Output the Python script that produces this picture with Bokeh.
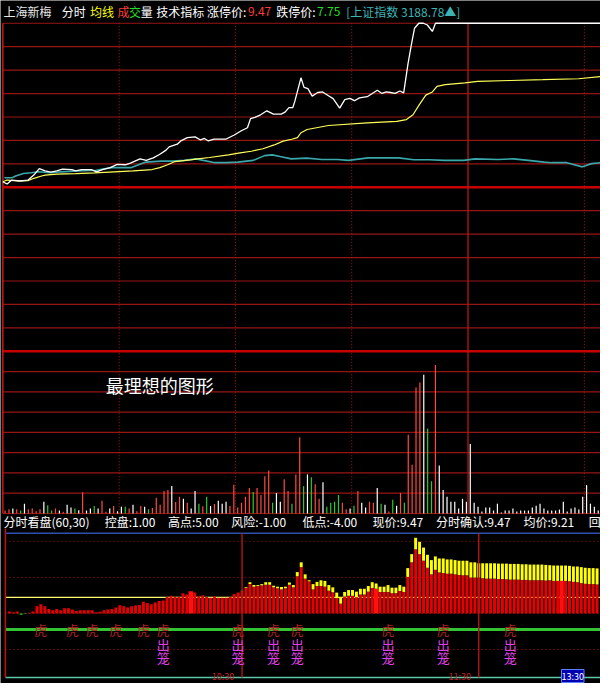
import numpy as np
from bokeh.plotting import figure
from bokeh.models import Range1d, Label
from bokeh.core.properties import value
from bokeh.embed import file_html
from bokeh.resources import INLINE

# ---------------- data ----------------
LIMIT_UP = 9.47
LIMIT_DOWN = 7.75
PREV_CLOSE = 8.61

# 分时 price line: minutes after 09:30, price
price_t = [0.0, 1.1, 2.3, 4.5, 6.5, 8.0, 9.4, 10.9, 12.4, 13.9, 15.4, 17.8, 18.8, 20.3, 22.8, 24.2, 25.7, 27.7, 29.5, 31.6,
           32.9, 35.4, 37.0, 38.8, 40.4, 42.1, 42.9, 45.0, 45.9, 47.6, 49.6, 51.0, 52.0, 53.0, 54.5, 57.5, 59.7, 61.4, 63.1, 63.9,
           65.0, 66.5, 68.1, 69.8, 71.8, 72.8, 73.8, 74.8, 75.3, 76.9, 77.7, 78.7, 79.8, 81.2, 82.5, 84.0, 85.2, 86.9, 88.2, 89.5,
           90.7, 92.0, 94.0, 95.3, 96.6, 97.8, 98.9, 100.0, 101.2, 102.4, 103.4, 104.5, 105.4, 106.2, 107.3, 108.5, 109.5, 110.8, 111.6, 154.2]
price_v = [8.639, 8.627, 8.648, 8.643, 8.648, 8.674, 8.708, 8.696, 8.689, 8.696, 8.705, 8.703, 8.696, 8.703, 8.703, 8.691, 8.703, 8.713, 8.730, 8.728,
           8.737, 8.759, 8.751, 8.764, 8.782, 8.805, 8.822, 8.836, 8.853, 8.870, 8.874, 8.858, 8.866, 8.853, 8.862, 8.862, 8.884, 8.905, 8.922, 8.970,
           8.977, 8.990, 9.011, 8.994, 8.994, 9.004, 9.028, 9.028, 9.059, 9.184, 9.134, 9.127, 9.088, 9.107, 9.110, 9.090, 9.075, 9.025, 9.070, 9.076,
           9.064, 9.079, 9.085, 9.102, 9.119, 9.102, 9.110, 9.107, 9.102, 9.115, 9.105, 9.256, 9.359, 9.444, 9.470, 9.470, 9.461, 9.427, 9.470, 9.470]

# 均线 (average price)
avg_t = [0.0, 1.1, 4.0, 6.5, 8.0, 10.0, 10.9, 13.9, 18.8, 23.7, 28.7, 33.6, 38.5, 40.5, 42.5, 44.4, 48.4, 50.3, 53.3, 58.2,
         61.2, 64.1, 67.1, 70.0, 72.3, 74.5, 76.0, 76.9, 78.5, 84.0, 94.0, 101.6, 104.1, 105.8, 107.4, 109.1, 110.8, 112.0, 114.1, 119.2,
         122.5, 130.9, 139.3, 148.5, 154.2]
avg_v = [8.639, 8.648, 8.643, 8.645, 8.657, 8.669, 8.674, 8.679, 8.682, 8.686, 8.691, 8.696, 8.703, 8.713, 8.728, 8.745, 8.754, 8.759, 8.766, 8.780,
         8.790, 8.799, 8.812, 8.832, 8.852, 8.862, 8.870, 8.896, 8.913, 8.934, 8.948, 8.956, 8.965, 8.990, 9.042, 9.093, 9.110, 9.139, 9.148, 9.157,
         9.165, 9.170, 9.174, 9.179, 9.191]

# 上证指数 overlay, on the price scale
idx_t = [0.4, 2.4, 3.3, 5.3, 7.3, 9.3, 12.2, 15.2, 19.1, 24.1, 28.0, 33.0, 36.9, 40.9, 43.8, 46.8, 49.8, 51.7, 54.7, 57.6,
         60.6, 64.6, 67.5, 69.5, 71.5, 74.4, 78.4, 82.3, 86.3, 89.2, 94.2, 98.1, 102.1, 106.0, 110.0, 113.9, 118.9, 121.8, 127.7, 131.7,
         135.6, 139.6, 141.6, 145.5, 149.5, 151.9, 154.2]
idx_v = [8.660, 8.660, 8.669, 8.682, 8.686, 8.691, 8.686, 8.691, 8.696, 8.699, 8.713, 8.713, 8.742, 8.747, 8.747, 8.751, 8.759, 8.751, 8.739, 8.739,
         8.742, 8.751, 8.776, 8.780, 8.771, 8.759, 8.763, 8.756, 8.756, 8.751, 8.764, 8.764, 8.764, 8.754, 8.754, 8.751, 8.751, 8.759, 8.756, 8.759,
         8.751, 8.742, 8.739, 8.739, 8.717, 8.734, 8.739]

# per-minute volume (手) and tick direction (r = up, g = down, w = unchanged)
vol = [150, 215, 250, 215, 150, 500, 215, 250, 115, 215,
       600, 415, 150, 250, 150, 85, 450, 300, 250, 165,
       1085, 150, 250, 385, 250, 650, 85, 250, 385, 115,
       350, 350, 250, 450, 115, 385, 350, 215, 285, 800,
       450, 1150, 1200, 1400, 585, 850, 750, 550, 250, 1150,
       500, 365, 850, 385, 485, 650, 500, 600, 385, 1465,
       300, 550, 850, 1300, 1100, 1300, 950, 1900, 2200, 550,
       1050, 600, 1750, 1150, 500, 2000, 3900, 1400, 2000, 1850,
       1500, 750, 1600, 350, 550, 600, 950, 550, 215, 250,
       400, 1150, 550, 300, 600, 550, 1300, 500, 450, 100,
       700, 400, 1050, 550, 4035, 2500, 6450, 6700, 7100, 4350,
       1650, 7600, 2450, 1200, 850, 600, 600, 250, 750, 600,
       3550, 550, 350, 100, 300, 300, 150, 500, 50, 150,
       150, 250, 100, 150, 150, 150, 300, 400, 500, 250,
       150, 150, 150, 200, 600, 100, 250, 300, 200, 850,
       1450, 500, 350, 150]
vol_dir = list("rrwrgwrrrr" "wggrwrwwgw" "rwwgwrrwrw" "wgrwrrwgrr"
               "rrrwrrwrww" "grgwrwwwrr" "rrrrgrrrrg" "wwrrgrrgwg"
               "rrwggggrrw" "grwwrrwgwr" "gwrgrrrrwg" "grwwwwwwww"
               "wwwwwwwwww" "wwwwwwwwww" "wwwwwwwwww" "wwww")

# 分时看盘 indicator (lower panel): minute index, red part, red+yellow total
ind_i = list(range(1, 151))
ind_red = [0.12, 0.08, 0.12, -0.08, -0.04, 0.04, 0.12, 0.45, 0.57, 0.45,
           0.28, 0.20, 0.28, 0.20, 0.33, 0.33, 0.24, 0.16, 0.20, 0.20,
           0.20, 0.20, 0.08, 0.10, 0.20, 0.24, 0.28, 0.37, 0.51, 0.45,
           0.37, 0.45, 0.49, 0.53, 0.73, 0.65, 0.57, 0.69, 0.77, 0.81,
           1.02, 1.10, 1.02, 1.02, 1.26, 1.18, 1.38, 1.30, 1.06, 1.14,
           1.02, 0.98, 1.06, 0.98, 0.98, 0.98, 1.02, 1.22, 1.30,
           1.38, 1.59, 1.83, 1.67, 1.71, 1.75, 1.79, 1.79, 1.63, 1.57, 1.50, 1.57, 1.79, 1.63, 2.32, 2.89,
           2.17, 2.00, 1.50, 1.71, 1.71, 1.67, 1.42, 1.32, 0.96, 0.61,
           1.06, 1.10, 1.10, 1.02, 1.18, 1.18, 1.36, 1.59, 1.54, 1.34, 1.34, 1.34, 1.26, 1.26, 1.40, 1.34,
           2.28, 3.19, 4.00, 3.70, 3.29, 2.85, 2.44, 2.72, 2.56, 2.52, 2.48, 2.48, 2.44, 2.40, 2.38, 2.38, 2.24, 2.24, 2.24,
           2.20, 2.17, 2.17, 2.17, 2.15, 2.15, 2.13, 2.11, 2.11, 2.11, 2.09, 2.09, 2.07, 2.07, 2.07, 2.07, 2.05, 2.07, 2.03, 2.03,
           2.03, 2.03, 2.01, 1.97, 1.95, 1.89, 1.85, 1.83, 1.83, 1.81]
ind_tot = [0.12, 0.08, 0.12, -0.08, -0.04, 0.04, 0.12, 0.45, 0.57, 0.45,
           0.28, 0.20, 0.28, 0.20, 0.33, 0.33, 0.24, 0.16, 0.20, 0.20,
           0.20, 0.20, 0.08, 0.10, 0.20, 0.24, 0.28, 0.37, 0.51, 0.45,
           0.37, 0.45, 0.49, 0.53, 0.73, 0.65, 0.57, 0.69, 0.77, 0.81,
           1.02, 1.10, 1.02, 1.02, 1.26, 1.18, 1.38, 1.30, 1.06, 1.14,
           1.02, 0.98, 1.06, 0.98, 0.98, 0.98, 1.02, 1.22, 1.30,
           1.42, 1.63, 1.95, 1.77, 1.77, 1.83, 1.95, 1.95, 1.73, 1.67, 1.65, 1.67, 1.93, 1.77, 2.58, 3.19,
           2.44, 2.07, 1.83, 1.97, 2.07, 2.03, 1.77, 1.63, 1.30, 1.02,
           1.34, 1.46, 1.46, 1.36, 1.54, 1.54, 1.71, 1.95, 1.87, 1.67, 1.67, 1.77, 1.61, 1.61, 1.77, 1.67,
           2.83, 3.70, 4.72, 4.47, 4.11, 3.66, 3.33, 3.56, 3.43, 3.43, 3.37, 3.37, 3.33, 3.29, 3.29, 3.29, 3.19, 3.19, 3.13,
           3.13, 3.13, 3.13, 3.13, 3.11, 3.11, 3.11, 3.09, 3.09, 3.09, 3.07, 3.07, 3.05, 3.05, 3.05, 3.05, 3.03, 3.01, 2.99, 2.99,
           2.99, 2.99, 2.97, 2.93, 2.93, 2.89, 2.85, 2.83, 2.83, 2.81]
ind_bright = [47, 94, 141]
# indicator levels
IND_HIGH, IND_CTRL, IND_RISK, IND_LOW = 5.0, 1.0, -1.0, -4.0
IND_DOTS = [4.5, 2.25, 0.0, -2.25]
# signals
tiger_t = [9, 17, 22, 28, 35, 40, 59, 68, 74, 97, 111, 128]
cage_t = [40, 59, 68, 74, 97, 111, 128]

header = [("上海新梅", "#e8e8e8"), ("分时", "#ffffff"), ("均线", "#ffff00"), ("成", "#ff3c3c"), ("交", "#22dd22"),
          ("量", "#ffffff"), ("技术指标", "#ffffff"), ("涨停价:", "#ffffff"), ("9.47", "#ff3c3c"),
          ("跌停价:", "#ffffff"), ("7.75", "#22dd22"), ("[上证指数 3188.78▲]", "#3cb4b4")]
indicator_text = ["分时看盘(60,30)", "控盘:1.00", "高点:5.00", "风险:-1.00", "低点:-4.00",
                  "现价:9.47", "分时确认:9.47", "均价:9.21", "回"]
time_labels = ["10:30", "11:30"]
cursor_label = "13:30"

# ---------------- layout (reference pixel geometry) ----------------
REF_W, REF_H = 616, 699
W, H = 600, 683
UP_X0, UP_PX_MIN = 2.4, 3.98          # 09:30 position, px per minute (upper panels)
LO_X0, LO_PX_MIN = 5.0, 4.05          # lower panel
PRICE_TOP_PX, PRICE_BOT_PX = 23.3, 359.0
VOL_TOP_PX, VOL_BOT_PX = 359.0, 525.0
VOL_MAX = 8300.0
IND_ZERO_PX, IND_HIGH_PX = 627.3, 545.3
FONT = "Noto Sans CJK SC"


def x_range_from(x0_px, px_per):
    return Range1d(start=(0 - x0_px) / px_per, end=(REF_W - x0_px) / px_per)


def y_range_from(va, pa, vb, pb):
    slope = (vb - va) / (pb - pa)
    top = va - slope * pa
    bottom = va + slope * (REF_H - pa)
    return Range1d(start=bottom, end=top)


p = figure(width=W, height=H, x_range=Range1d(0, REF_W), y_range=Range1d(REF_H, 0),
           output_backend="svg", toolbar_location=None, min_border=0,
           x_axis_location=None, y_axis_location=None,
           background_fill_color="black", border_fill_color="black", outline_line_color=None)
p.grid.visible = False
p.extra_x_ranges = {"tu": x_range_from(UP_X0, UP_PX_MIN), "tl": x_range_from(LO_X0, LO_PX_MIN)}
p.extra_y_ranges = {
    "price": y_range_from(LIMIT_UP, PRICE_TOP_PX, LIMIT_DOWN, PRICE_BOT_PX),
    "vol": y_range_from(VOL_MAX, VOL_TOP_PX, 0.0, VOL_BOT_PX),
    "ind": y_range_from(IND_HIGH, IND_HIGH_PX, 0.0, IND_ZERO_PX),
}

GRID = "#981414"
THICK = "#c80000"
T_END = (REF_W - UP_X0) / UP_PX_MIN
TL_END = (REF_W - LO_X0) / LO_PX_MIN

# ---- price panel grid ----
step = (LIMIT_UP - PREV_CLOSE) / 7
for k in range(-7, 8):
    lvl = PREV_CLOSE + k * step
    thick = k in (0, -7)
    p.segment(x0=0, x1=T_END, y0=lvl, y1=lvl, x_range_name="tu", y_range_name="price",
              line_color=THICK if thick else GRID, line_width=2.5 if thick else 1.2)
# volume panel grid
for k in range(0, 8):
    lvl = k * VOL_MAX / 8
    p.segment(x0=0, x1=T_END, y0=lvl, y1=lvl, x_range_name="tu", y_range_name="vol",
              line_color=GRID, line_width=1.2)
# vertical time lines of upper panels
for m in [30, 60, 90, 150]:
    p.segment(x0=m, x1=m, y0=PRICE_TOP_PX, y1=VOL_BOT_PX, x_range_name="tu",
              line_color="#b41818", line_width=1, line_dash="1 2")
p.segment(x0=120, x1=120, y0=PRICE_TOP_PX, y1=VOL_BOT_PX, x_range_name="tu", line_color="#b41818", line_width=1.3)
p.segment(x0=0, x1=0, y0=PRICE_TOP_PX, y1=VOL_BOT_PX, x_range_name="tu", line_color="#c81818", line_width=1.5)

# ---- volume bars ----
cmap = {"r": "#ff4a3c", "g": "#2ccc2c", "w": "#ffffff"}
vt = np.arange(len(vol)) + 0.58
p.segment(x0=vt, x1=vt, y0=np.zeros(len(vol)), y1=vol, x_range_name="tu", y_range_name="vol",
          line_color=[cmap[d] for d in vol_dir], line_width=1.2)

# ---- lines ----
p.line(idx_t, idx_v, x_range_name="tu", y_range_name="price", line_color="#3aa8aa", line_width=1.6)
p.line(avg_t, avg_v, x_range_name="tu", y_range_name="price", line_color="#ffff58", line_width=1.2)
p.line(price_t, price_v, x_range_name="tu", y_range_name="price", line_color="#ffffff", line_width=1.3)

# ---- lower indicator panel ----
p.segment(x0=0, x1=TL_END, y0=IND_HIGH, y1=IND_HIGH, x_range_name="tl", y_range_name="ind",
          line_color="#2f50b0", line_width=1.6)
for lvl in IND_DOTS:
    p.segment(x0=0, x1=TL_END, y0=lvl, y1=lvl, x_range_name="tl", y_range_name="ind",
              line_color="#b01818", line_width=1, line_dash="1 3")
p.segment(x0=0, x1=TL_END, y0=IND_CTRL, y1=IND_CTRL, x_range_name="tl", y_range_name="ind",
          line_color="#ffff70", line_width=1.2)
p.segment(x0=0, x1=TL_END, y0=IND_LOW, y1=IND_LOW, x_range_name="tl", y_range_name="ind",
          line_color="#5cc8a8", line_width=1.6)

ii = np.array(ind_i)
red = np.array(ind_red)
tot = np.array(ind_tot)
pos = red >= 0
bright = np.isin(ii, ind_bright)
normal = pos & ~bright
p.vbar(x=ii[normal], bottom=0, top=red[normal], width=0.74, x_range_name="tl", y_range_name="ind",
       fill_color="#e80000", line_color=None)
p.vbar(x=ii[bright], bottom=0, top=red[bright], width=1.15, x_range_name="tl", y_range_name="ind",
       fill_color="#ff1010", line_color=None)
neg = ~pos
p.vbar(x=ii[neg], bottom=0, top=red[neg], width=0.74, x_range_name="tl", y_range_name="ind",
       fill_color="#22cc22", line_color=None)
yel = tot > red
p.vbar(x=ii[yel], bottom=red[yel], top=tot[yel], width=0.74, x_range_name="tl", y_range_name="ind",
       fill_color="#ffff00", line_color=None)

p.segment(x0=0, x1=TL_END, y0=IND_RISK, y1=IND_RISK, x_range_name="tl", y_range_name="ind",
          line_color="#33c433", line_width=3)
for m in [60, 120]:
    p.segment(x0=m, x1=m, y0=IND_HIGH, y1=IND_LOW, x_range_name="tl", y_range_name="ind",
              line_color="#b41414", line_width=1.4)
p.segment(x0=0, x1=0, y0=IND_HIGH + 0.3, y1=IND_LOW, x_range_name="tl", y_range_name="ind",
          line_color="#b41414", line_width=1.6)

# signals 虎 / 出笼
p.text(x=tiger_t, y=[IND_RISK] * len(tiger_t), text=["虎"] * len(tiger_t), x_range_name="tl", y_range_name="ind",
       text_font=value(FONT), text_font_size="13px", text_color="#b42020", text_align="center", text_baseline="middle")
p.text(x=cage_t, y=[IND_RISK] * len(cage_t), text=["出"] * len(cage_t), y_offset=15.5, x_range_name="tl", y_range_name="ind",
       text_font=value(FONT), text_font_size="13px", text_color="#e040e8", text_align="center", text_baseline="middle")
p.text(x=cage_t, y=[IND_RISK] * len(cage_t), text=["笼"] * len(cage_t), y_offset=28.5, x_range_name="tl", y_range_name="ind",
       text_font=value(FONT), text_font_size="13px", text_color="#e040e8", text_align="center", text_baseline="middle")

# ---- texts ----
header_x = [3, 63, 92, 120, 132, 144, 160, 212, 254, 283, 325, 355]
for (txt, col), hx in zip(header, header_x):
    p.add_layout(Label(x=hx, y=11, text=txt, text_color=col, text_font=FONT, text_font_size="12px",
                       text_baseline="middle", text_align="left"))
ind_x = [3, 107, 172, 237, 310, 382, 447, 537, 604]
for txt, hx in zip(indicator_text, ind_x):
    p.add_layout(Label(x=hx, y=533, text=txt, text_color="#ffffff", text_font=FONT, text_font_size="12px",
                       text_baseline="middle", text_align="left"))
p.add_layout(Label(x=108, y=393, text="最理想的图形", text_color="#ffffff", text_font=FONT, text_font_size="18px",
                   text_baseline="middle", text_align="left"))

# bottom time labels (kept fully inside the page, small)
for txt, tx in zip(time_labels, [240, 483]):
    p.add_layout(Label(x=tx, y=698, text=txt, text_color="#c02020", text_font=FONT, text_font_size="9px",
                       text_baseline="bottom", text_align="right"))
p.add_layout(Label(x=576, y=698, text=cursor_label, text_color="#ffffff", text_font=FONT, text_font_size="9px",
                   text_baseline="bottom", text_align="left", background_fill_color="#0000b0",
                   border_line_color="#6080ff"))

open("out.html", "w").write(file_html(p, INLINE))
